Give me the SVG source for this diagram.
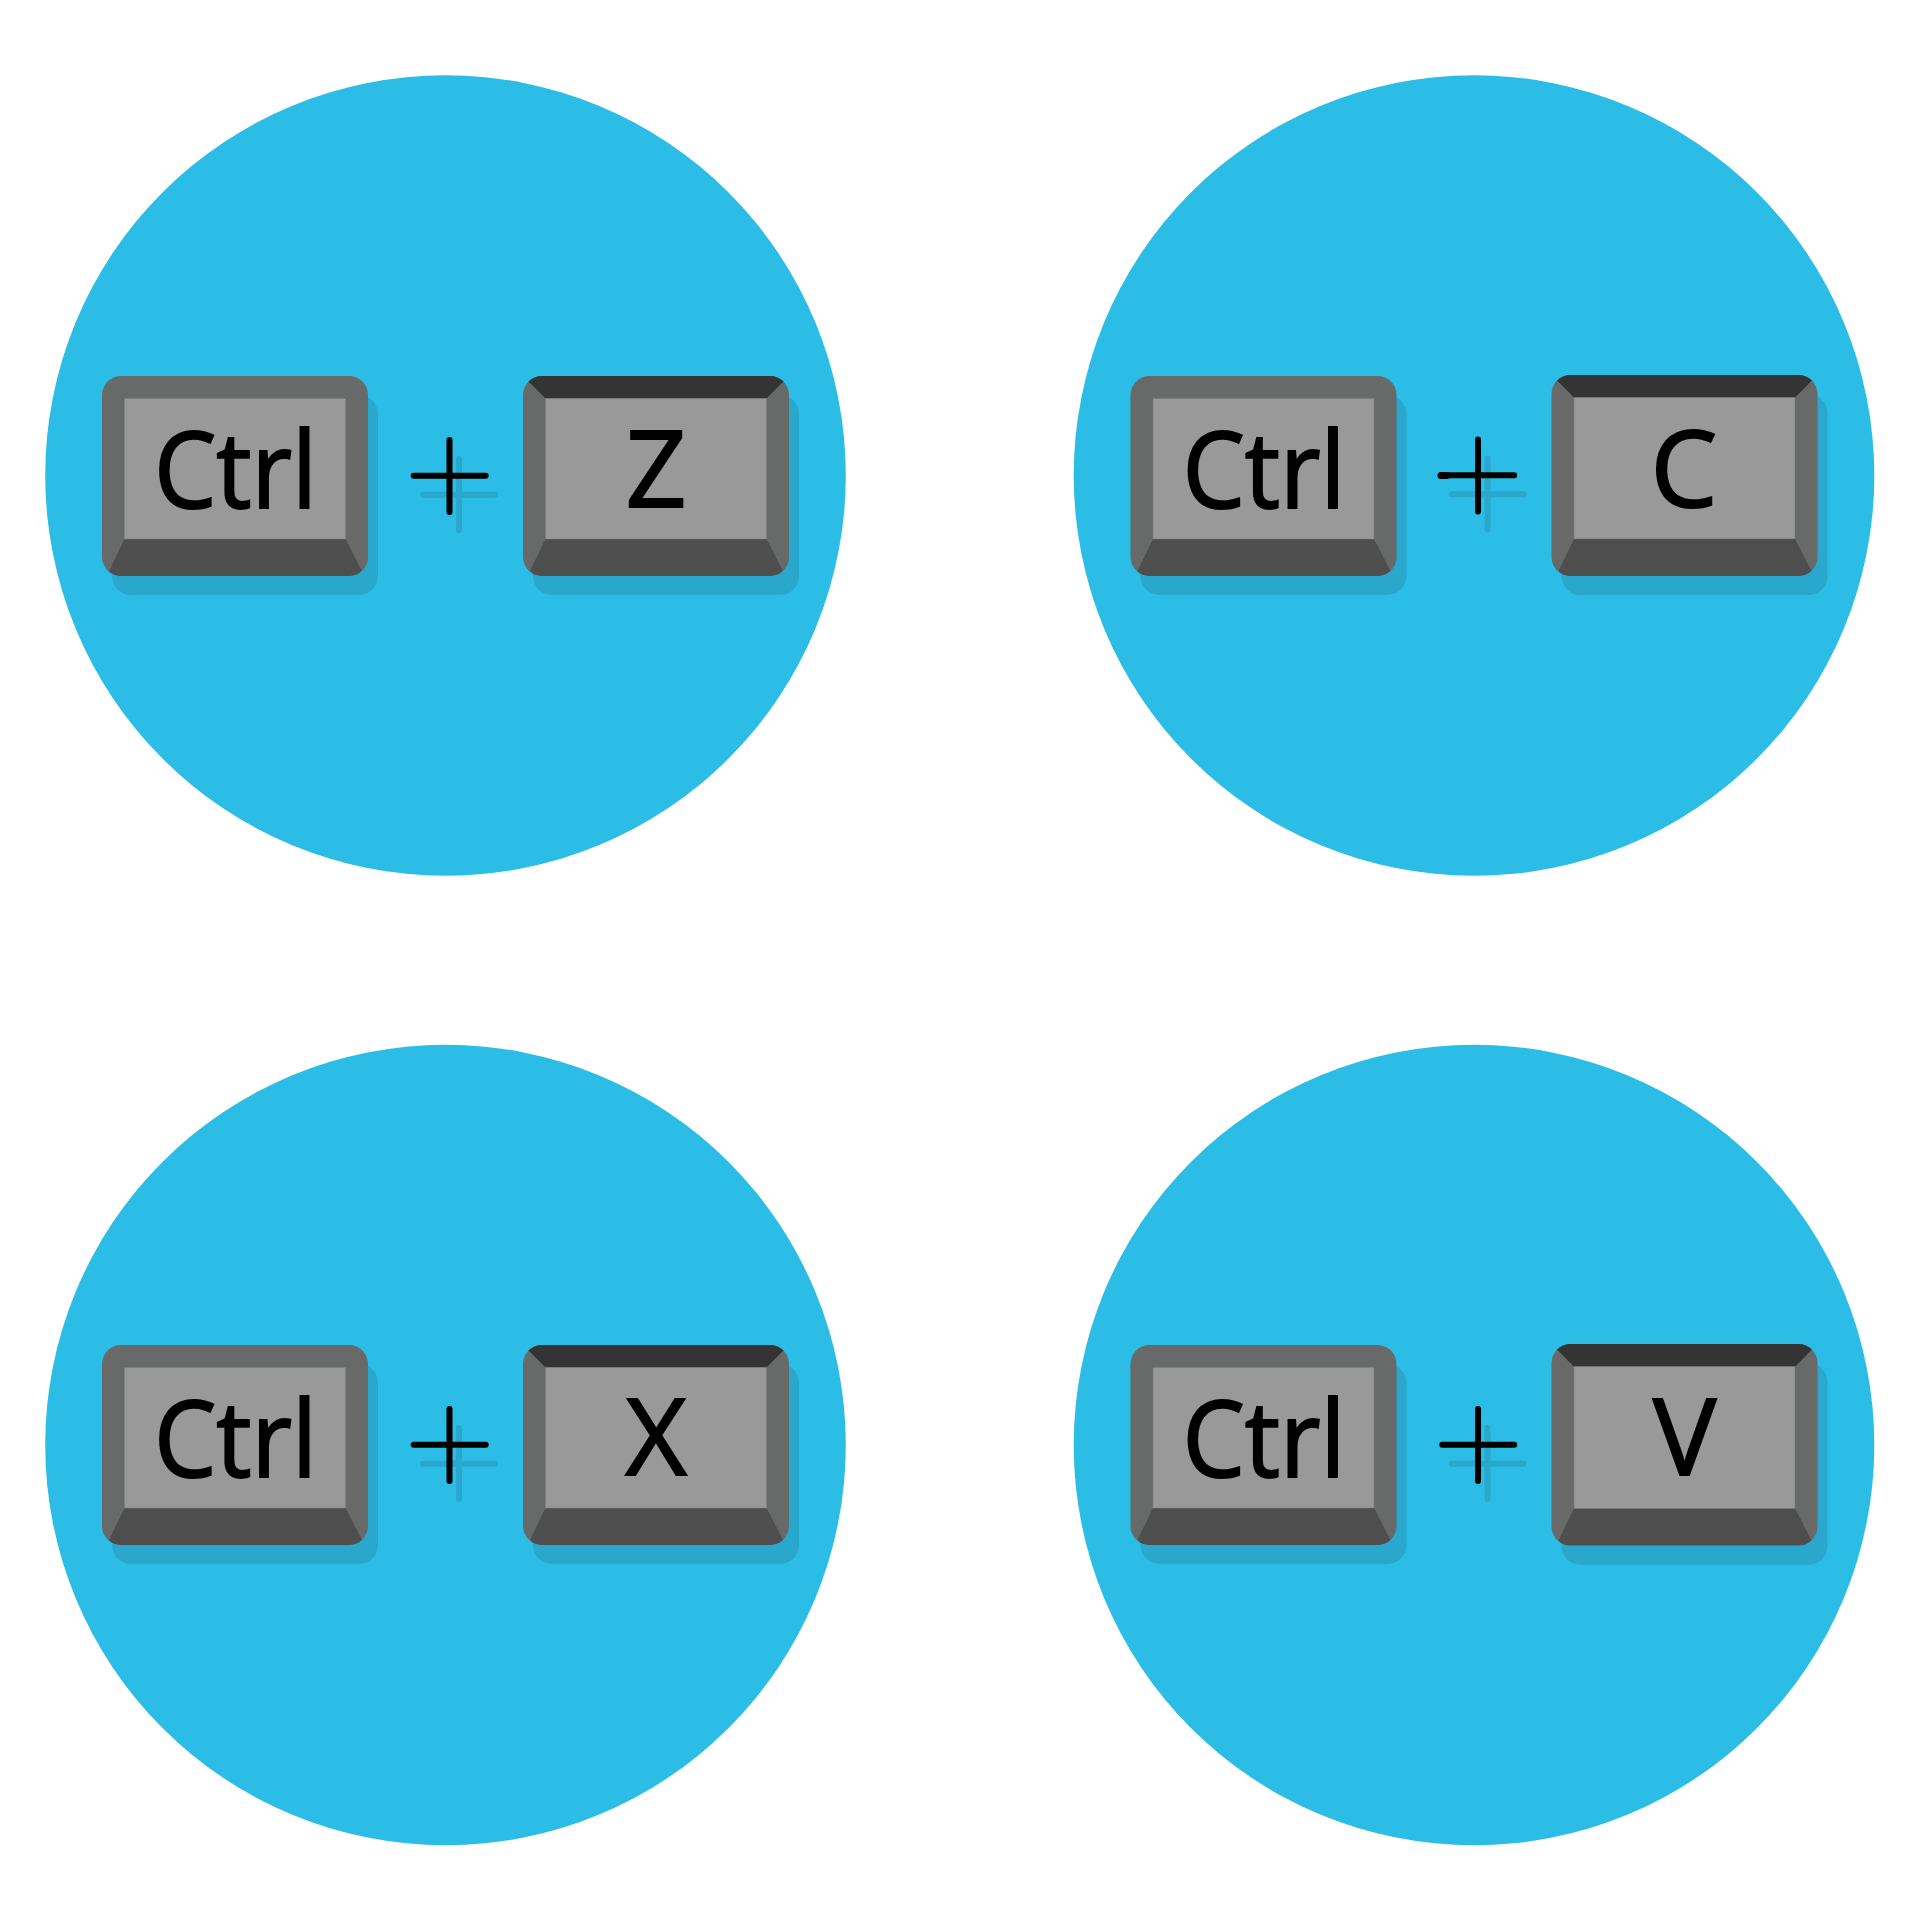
<svg xmlns="http://www.w3.org/2000/svg" width="1920" height="1920" viewBox="0 0 1920 1920">
<style>
.disc{fill:#2bbde5}
.keyshadow{fill:#2aa7cd}
.side{fill:#686969}
.dark{fill:#343434}
.low{fill:#4d4e4d}
.face{fill:#999;stroke:#7d7d7d;stroke-width:.6}
.keytext{font-family:"Open Sans","Noto Sans",sans-serif;font-size:106px;fill:#000;stroke:#000;stroke-width:2;text-anchor:middle}
.plus{fill:none;stroke:#000;stroke-width:6;stroke-linecap:round}
.plusshadow{fill:none;stroke:#2aa7cd;stroke-width:6;stroke-linecap:round}
</style>
<defs>
<clipPath id="keyclip"><rect width="266" height="200" rx="19"/></clipPath>
<g id="ctrlkey">
<rect class="keyshadow" x="10" y="19" width="266" height="200" rx="19"/>
<rect class="side" width="266" height="200" rx="19"/>
<path class="low" clip-path="url(#keyclip)" d="M22.5 163 L7 195 L12 200 H254 L260 195 L243.5 163Z"/>
<rect class="face" x="22.5" y="22.5" width="221" height="140.500"/>
</g>
<g id="letterkey">
<rect class="keyshadow" x="10" y="19" width="266" height="200" rx="19"/>
<rect class="side" width="266" height="200" rx="19"/>
<path class="dark" clip-path="url(#keyclip)" d="M4 4 L10 0 H256 L262 4 L243.500 22.500 H22.500Z"/>
<path class="low" clip-path="url(#keyclip)" d="M22.5 163 L7 195 L12 200 H254 L260 195 L243.5 163Z"/>
<rect class="face" x="22.5" y="22.5" width="221" height="140.500"/>
</g>
<g id="plussign">
<path class="plusshadow" d="M423 494.700 H495 M459 459 V530"/>
<path class="plus" d="M413.700 475.700 H485.700 M449.500 440 V512"/>
</g>
</defs>
<g id="circle-z">
<circle class="disc" cx="445.500" cy="475.500" r="400.300"/>
<use href="#ctrlkey" x="102" y="376"/>
<text class="keytext" x="235.500" y="508" textLength="163" lengthAdjust="spacingAndGlyphs">Ctrl</text>
<use href="#plussign"/>
<use href="#letterkey" x="523" y="376"/>
<text class="keytext" x="656" y="507">Z</text>
</g>
<g id="circle-c">
<circle class="disc" cx="1474" cy="475.500" r="400.300"/>
<use href="#ctrlkey" x="1130.500" y="376"/>
<text class="keytext" x="1264" y="508" textLength="163" lengthAdjust="spacingAndGlyphs">Ctrl</text>
<use href="#plussign" x="1028.500" y="-.5"/>
<path d="M1441 475.600 H1447" stroke="#000" stroke-width="7" stroke-linecap="round" fill="none"/>
<use href="#letterkey" transform="translate(1551.500 375) scale(1 1.005)"/>
<text class="keytext" x="1684" y="507">C</text>
</g>
<g id="circle-x">
<circle class="disc" cx="445.500" cy="1445" r="400.300"/>
<use href="#ctrlkey" x="102" y="1345"/>
<text class="keytext" x="235.500" y="1477" textLength="163" lengthAdjust="spacingAndGlyphs">Ctrl</text>
<use href="#plussign" y="969"/>
<use href="#letterkey" x="523" y="1345"/>
<text class="keytext" x="656" y="1475">X</text>
</g>
<g id="circle-v">
<circle class="disc" cx="1474" cy="1445" r="400.300"/>
<use href="#ctrlkey" x="1130.500" y="1345"/>
<text class="keytext" x="1264" y="1477" textLength="163" lengthAdjust="spacingAndGlyphs">Ctrl</text>
<use href="#plussign" x="1028.500" y="969"/>
<use href="#letterkey" transform="translate(1551.500 1344) scale(1 1.008)"/>
<text class="keytext" x="1684.500" y="1475">V</text>
</g>
</svg>
